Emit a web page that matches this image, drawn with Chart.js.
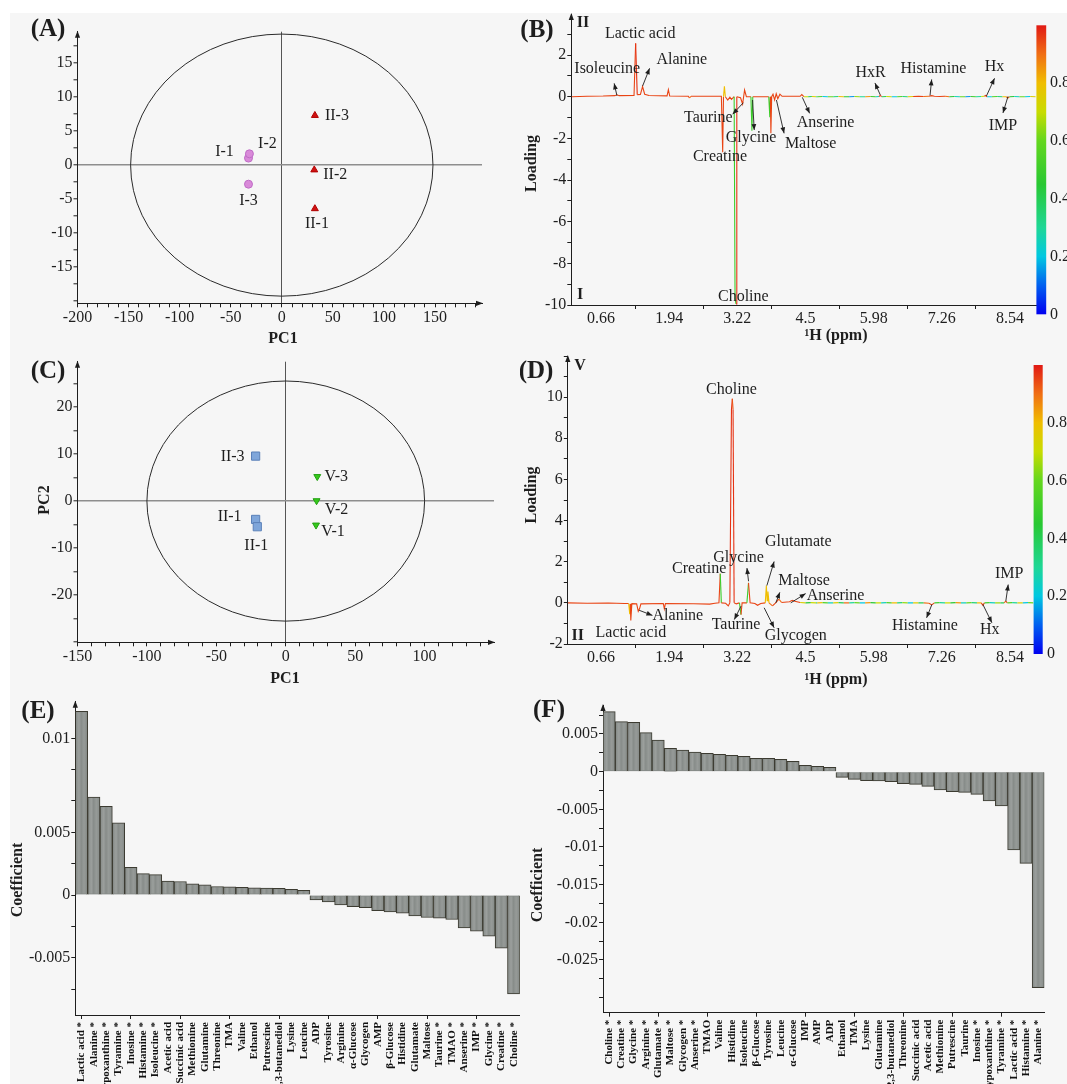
<!DOCTYPE html>
<html>
<head>
<meta charset="utf-8">
<title>PCA scores, loadings and coefficients</title>
<script src="https://cdn.jsdelivr.net/npm/chart.js@4.4.1/dist/chart.umd.min.js"></script>
<style>
  html, body { margin: 0; padding: 0; background: #ffffff; }
  #fig { position: relative; width: 1067px; height: 1084px; overflow: hidden; }
  #paper { position: absolute; left: 10px; top: 13px; right: 0; bottom: 0; background: #f6f6f6; }
  #fig canvas { position: absolute; }
</style>
</head>
<body>
<div id="fig"><div id="paper"></div></div>
<script>
// ---------- (A) PCA scores: group I vs group II ----------
const aNamesI = ['I-1', 'I-2', 'I-3'];
const aPc1I = [-32.6, -31.7, -32.6];
const aPc2I = [1.03, 1.66, -2.8];
const aNamesII = ['II-1', 'II-2', 'II-3'];
const aPc1II = [32.4, 31.8, 32.4];
const aPc2II = [-6.4, -0.7, 7.3];
const aXTicks = [-200, -150, -100, -50, 0, 50, 100, 150];
const aYTicks = [-15, -10, -5, 0, 5, 10, 15];
const aEllipse = [148, 19.25];

// ---------- (C) PCA scores: group II vs group V ----------
const cNamesII = ['II-3', 'II-1', 'II-1'];
const cPc1II = [-21.7, -21.7, -20.5];
const cPc2II = [9.55, -3.9, -5.45];
const cNamesV = ['V-3', 'V-2', 'V-1'];
const cPc1V = [22.7, 22.2, 21.8];
const cPc2V = [5.2, 0.07, -5.1];
const cXTicks = [-150, -100, -50, 0, 50, 100];
const cYTicks = [-20, -10, 0, 10, 20];
const cEllipse = [100, 25.5];

// ---------- (B)/(D) loading spectra (ppm, loading, |r| colour) ----------
const ppmTicks = [0.66, 1.94, 3.22, 4.5, 5.98, 7.26, 8.54];
const corrTicks = [0, 0.2, 0.4, 0.6, 0.8];

const bYTicks = [-10, -8, -6, -4, -2, 0, 2];
const bPpm = [0.11, 0.40, 0.70, 0.92, 0.96, 1.00, 1.28, 1.31, 1.34, 1.40,
  1.44, 1.48, 1.56, 1.90, 1.925, 1.95, 2.30, 2.32, 2.35, 2.92,
  2.945, 2.96, 2.977, 2.995, 3.04, 3.08, 3.11, 3.16, 3.177, 3.195,
  3.21, 3.28, 3.319, 3.356, 3.39, 3.475, 3.494, 3.51, 3.81, 3.83,
  3.84, 3.85, 3.865, 3.89, 3.92, 3.95, 3.98, 4.02, 4.06, 4.40,
  4.43, 4.47, 4.55, 4.62, 4.70, 4.92, 5.02, 5.12, 5.22, 5.32,
  5.42, 5.52, 5.62, 5.72, 5.82, 5.92, 6.02, 6.08, 6.105, 6.13,
  6.22, 6.32, 6.42, 6.52, 6.62, 6.72, 6.82, 6.92, 7.02, 7.07,
  7.12, 7.22, 7.32, 7.40, 7.50, 7.60, 7.70, 7.80, 7.90, 8.00,
  8.06, 8.08, 8.11, 8.20, 8.30, 8.40, 8.47, 8.50, 8.53, 8.62,
  8.72, 8.82, 8.92, 9.02];
const bLoad = [0.00, 0.02, 0.03, 0.05, 0.09, 0.05, 0.06, 2.56, 0.10, 0.11,
  0.49, 0.12, 0.06, 0.04, 0.34, 0.03, 0.02, -0.06, 0.02, 0.02,
  -2.67, 0.00, 0.50, 0.00, -0.16, -0.02, -0.13, 0.00, -9.70, -9.95,
  0.00, -0.05, -0.35, 0.32, 0.00, 0.00, -1.63, 0.00, 0.00, -0.99,
  0.00, -1.76, 0.00, 0.12, -0.15, 0.14, -0.10, 0.12, 0.02, 0.02,
  0.10, 0.00, 0.00, 0.01, 0.00, 0.00, 0.01, 0.00, 0.00, 0.01,
  0.00, 0.00, 0.01, 0.00, 0.00, 0.01, 0.00, 0.01, 0.06, 0.00,
  0.01, 0.00, 0.00, 0.01, 0.00, 0.01, 0.02, 0.01, 0.02, 0.05,
  0.02, 0.01, 0.02, 0.00, 0.01, 0.00, 0.00, 0.01, 0.00, 0.01,
  0.02, 0.06, 0.00, 0.00, 0.01, 0.00, 0.00, -0.06, 0.00, 0.01,
  0.00, 0.00, 0.01, 0.00];
const bCorr = [0.95, 0.95, 0.95, 0.95, 0.95, 0.95, 0.95, 0.97, 0.95, 0.95,
  0.95, 0.95, 0.95, 0.95, 0.95, 0.95, 0.95, 0.90, 0.95, 0.95,
  0.95, 0.80, 0.80, 0.95, 0.95, 0.95, 0.95, 0.50, 0.50, 0.97,
  0.95, 0.95, 0.95, 0.95, 0.95, 0.50, 0.50, 0.95, 0.50, 0.50,
  0.95, 0.95, 0.95, 0.95, 0.95, 0.95, 0.95, 0.95, 0.95, 0.95,
  0.95, 0.70, 0.40, 0.75, 0.30, 0.55, 0.20, 0.60, 0.35, 0.80,
  0.45, 0.15, 0.65, 0.30, 0.85, 0.50, 0.25, 0.95, 0.95, 0.40,
  0.70, 0.20, 0.55, 0.35, 0.75, 0.95, 0.95, 0.90, 0.95, 0.95,
  0.95, 0.95, 0.90, 0.45, 0.25, 0.60, 0.15, 0.50, 0.30, 0.70,
  0.95, 0.95, 0.20, 0.55, 0.35, 0.80, 0.90, 0.90, 0.45, 0.25,
  0.60, 0.20, 0.75, 0.40];

const dYTicks = [-2, 0, 2, 4, 6, 8, 10];
const dPpm = [0.04, 0.40, 0.80, 1.10, 1.18, 1.20, 1.21, 1.22, 1.24, 1.33,
  1.36, 1.385, 1.41, 1.83, 1.85, 1.87, 2.40, 2.70, 2.80, 2.875,
  2.90, 2.92, 3.00, 3.05, 3.08, 3.11, 3.126, 3.14, 3.16, 3.20,
  3.26, 3.289, 3.31, 3.40, 3.43, 3.46, 3.55, 3.60, 3.66, 3.745,
  3.765, 3.78, 3.795, 3.815, 3.88, 3.94, 4.00, 4.05, 4.20, 4.25,
  4.30, 4.40, 4.50, 4.60, 4.70, 4.92, 5.02, 5.12, 5.22, 5.32,
  5.42, 5.52, 5.62, 5.72, 5.82, 5.92, 6.02, 6.12, 6.22, 6.32,
  6.42, 6.52, 6.62, 6.72, 6.82, 6.92, 7.02, 7.07, 7.12, 7.22,
  7.32, 7.42, 7.52, 7.62, 7.72, 7.82, 7.92, 8.00, 8.03, 8.06,
  8.16, 8.26, 8.36, 8.43, 8.46, 8.49, 8.58, 8.68, 8.78, 8.88,
  8.98];
const dLoad = [0.00, -0.02, -0.01, -0.03, -0.03, -0.55, -0.05, -0.86, -0.04, -0.05,
  -0.41, -0.28, -0.05, -0.03, -0.29, -0.03, -0.04, -0.06, -0.02, 0.00,
  1.42, 0.00, -0.02, -0.15, 0.00, 9.40, 9.92, 9.40, 0.00, -0.05,
  0.00, -0.57, 0.00, 0.00, 0.97, 0.00, -0.03, -0.12, -0.03, 0.00,
  0.84, 0.10, 0.55, 0.00, -0.15, 0.00, 0.18, 0.02, 0.05, 0.12,
  0.08, 0.02, 0.00, 0.01, 0.00, 0.00, 0.01, 0.00, 0.00, 0.01,
  0.00, 0.00, 0.01, 0.00, 0.00, 0.01, 0.00, 0.00, 0.01, 0.00,
  0.00, 0.01, 0.00, 0.00, 0.00, 0.00, -0.02, -0.10, 0.00, 0.01,
  0.00, 0.00, 0.01, 0.00, 0.00, 0.01, 0.00, 0.00, -0.12, 0.00,
  0.01, 0.00, 0.00, 0.00, 0.08, 0.00, 0.01, 0.00, 0.00, 0.01,
  0.00];
const dCorr = [0.95, 0.95, 0.95, 0.95, 0.80, 0.80, 0.95, 0.95, 0.95, 0.95,
  0.95, 0.95, 0.95, 0.95, 0.95, 0.95, 0.95, 0.95, 0.95, 0.95,
  0.50, 0.95, 0.95, 0.95, 0.97, 0.97, 0.93, 0.97, 0.95, 0.95,
  0.50, 0.95, 0.95, 0.50, 0.95, 0.95, 0.95, 0.95, 0.95, 0.80,
  0.80, 0.80, 0.80, 0.90, 0.95, 0.95, 0.90, 0.95, 0.95, 0.95,
  0.95, 0.75, 0.45, 0.70, 0.35, 0.80, 0.55, 0.25, 0.75, 0.40,
  0.90, 0.30, 0.60, 0.20, 0.85, 0.45, 0.70, 0.25, 0.55, 0.80,
  0.35, 0.65, 0.20, 0.75, 0.40, 0.90, 0.95, 0.95, 0.50, 0.30,
  0.70, 0.45, 0.85, 0.25, 0.60, 0.35, 0.80, 0.95, 0.95, 0.50,
  0.25, 0.65, 0.40, 0.90, 0.95, 0.55, 0.30, 0.75, 0.20, 0.60,
  0.45];

// ---------- (E)/(F) regression coefficients ----------
const eNames = ['Lactic acid *', 'Alanine *', 'Hypoxanthine *', 'Tyramine *', 'Inosine *', 'Histamine *',
  'Isoleucine *', 'Acetic acid', 'Succinic acid', 'Methionine', 'Glutamine', 'Threonine', 'TMA', 'Valine',
  'Ethanol', 'Putrescine', '2,3-butanediol', 'Lysine', 'Leucine', 'ADP', 'Tyrosine', 'Arginine',
  'α-Glucose', 'Glycogen', 'AMP', 'β-Glucose', 'Histidine', 'Glutamate', 'Maltose', 'Taurine *',
  'TMAO *', 'Anserine *', 'IMP *', 'Glycine *', 'Creatine *', 'Choline *'];
const eCoef = [0.01466, 0.00782, 0.00708, 0.00576, 0.00221, 0.00171, 0.00163, 0.00111, 0.00108, 0.00089,
  0.00082, 0.00068, 0.00066, 0.00061, 0.00058, 0.00055, 0.00053, 0.00045, 0.00037, -0.00039,
  -0.00055, -0.00079, -0.00092, -0.00100, -0.00124, -0.00134, -0.00145, -0.00166, -0.00179, -0.00184,
  -0.00195, -0.00263, -0.00289, -0.00329, -0.00424, -0.00789];
const eYTicks = [-0.005, 0, 0.005, 0.0125];
const eYText = ['-0.005', '0', '0.005', '0.01'];

const fNames = ['Choline *', 'Creatine *', 'Glycine *', 'Arginine *', 'Glutamate *', 'Maltose *',
  'Glycogen *', 'Anserine *', 'TMAO', 'Valine', 'Histidine', 'Isoleucine', 'β-Glucose', 'Tyrosine',
  'Leucine', 'α-Glucose', 'IMP', 'AMP', 'ADP', 'Ethanol', 'TMA', 'Lysine', 'Glutamine',
  '2,3-butanediol', 'Threonine', 'Succinic acid', 'Acetic acid', 'Methionine', 'Putrescine', 'Taurine',
  'Inosine *', 'Hypoxanthine *', 'Tyramine *', 'Lactic acid *', 'Histamine *', 'Alanine *'];
const fCoef = [0.00796, 0.00664, 0.00655, 0.00518, 0.00420, 0.00310, 0.00288, 0.00261, 0.00243, 0.00230,
  0.00217, 0.00204, 0.00177, 0.00177, 0.00164, 0.00137, 0.00084, 0.00071, 0.00058, -0.00075,
  -0.00102, -0.00120, -0.00124, -0.00133, -0.00159, -0.00168, -0.00195, -0.00243, -0.00265, -0.00274,
  -0.00301, -0.00389, -0.00456, -0.01040, -0.01217, -0.02867];
const fYTicks = [-0.025, -0.02, -0.015, -0.01, -0.005, 0, 0.005];

// ---------- annotations (axis units of the loading plots) ----------
const bNotes = [
  { t: 'Lactic acid', x: 1.396, y: 3.04 },
  { t: 'Isoleucine', x: 0.776, y: 1.32, from: [0.959, 0.05], to: [0.907, 0.64] },
  { t: 'Alanine', x: 2.177, y: 1.76, from: [1.441, 0.51], to: [1.572, 1.36] },
  { t: 'Taurine', x: 2.675, y: -1.02, from: [3.332, -0.29], to: [3.132, -0.84] },
  { t: 'Creatine', x: 2.894, y: -2.88 },
  { t: 'Glycine', x: 3.476, y: -1.95, from: [3.506, -0.16], to: [3.537, -1.6] },
  { t: 'Maltose', x: 4.597, y: -2.27, from: [3.954, -0.16], to: [4.098, -1.76] },
  { t: 'Anserine', x: 4.877, y: -1.25, from: [4.44, -0.03], to: [4.578, -0.8] },
  { t: 'Choline', x: 3.332, y: -9.6 },
  { t: 'HxR', x: 5.723, y: 1.15, from: [5.905, 0.08], to: [5.804, 0.66] },
  { t: 'Histamine', x: 6.901, y: 1.32, from: [6.839, 0.06], to: [6.869, 0.83] },
  { t: 'Hx', x: 8.05, y: 1.44, from: [7.897, 0.03], to: [8.05, 0.88] },
  { t: 'IMP', x: 8.208, y: -1.38, from: [8.302, 0.01], to: [8.208, -0.78] }
];
const bMarks = [{ t: 'II', x: 0.32, y: 3.55 }, { t: 'I', x: 0.268, y: -9.52 }];

const dNotes = [
  { t: 'Choline', x: 3.109, y: 10.36 },
  { t: 'Creatine', x: 2.504, y: 1.67 },
  { t: 'Glycine', x: 3.244, y: 2.18, from: [3.431, 1.05], to: [3.401, 1.69] },
  { t: 'Glutamate', x: 4.365, y: 2.95, from: [3.775, 0.84], to: [3.911, 2.01] },
  { t: 'Maltose', x: 4.472, y: 1.09, from: [3.943, 0.0], to: [4.018, 0.51] },
  { t: 'Anserine', x: 5.064, y: 0.35, from: [4.223, 0.0], to: [4.503, 0.45] },
  { t: 'Taurine', x: 3.195, y: -1.05, from: [3.289, -0.16], to: [3.164, -0.81] },
  { t: 'Glycogen', x: 4.317, y: -1.58, from: [3.724, -0.24], to: [3.911, -1.21] },
  { t: 'Alanine', x: 2.104, y: -0.65, from: [1.376, -0.36], to: [1.626, -0.61] },
  { t: 'Lactic acid', x: 1.221, y: -1.45 },
  { t: 'Histamine', x: 6.742, y: -1.13, from: [6.873, -0.08], to: [6.774, -0.73] },
  { t: 'Hx', x: 7.96, y: -1.33, from: [7.831, -0.08], to: [8.0, -0.97] },
  { t: 'IMP', x: 8.326, y: 1.4, from: [8.261, 0.08], to: [8.306, 0.89] }
];
const dMarks = [{ t: 'V', x: 0.268, y: 11.53 }, { t: 'II', x: 0.223, y: -1.58 }];

// ---------- helpers ----------
const SERIF = '"Liberation Serif", "Times New Roman", Times, serif';
const INK = '#1e1e1e';
const CLEAR = 'rgba(0,0,0,0)';
Chart.defaults.font.family = SERIF;
Chart.defaults.font.size = 16;
Chart.defaults.color = INK;

// water region cut out of the ppm axis (4.7 - 4.9 ppm)
const toAxis = p => (p >= 4.8 ? p - 0.2 : p);

const JET = [[0, [0, 0, 240]], [0.1, [0, 95, 240]], [0.2, [0, 200, 225]], [0.3, [30, 215, 150]],
  [0.45, [40, 200, 50]], [0.6, [100, 215, 30]], [0.7, [200, 220, 0]], [0.8, [240, 190, 0]],
  [0.9, [240, 110, 20]], [1, [225, 25, 20]]];
function jet(v) {
  for (let i = 1; i < JET.length; i++) {
    if (v <= JET[i][0]) {
      const [v0, c0] = JET[i - 1], [v1, c1] = JET[i];
      const f = (v - v0) / (v1 - v0);
      const c = c0.map((k, j) => Math.round(k + (c1[j] - k) * f));
      return `rgb(${c[0]},${c[1]},${c[2]})`;
    }
  }
  return 'rgb(225,25,20)';
}

const fig = document.getElementById('fig');
function canvasAt(box) {
  const c = document.createElement('canvas');
  c.width = box.w;
  c.height = box.h;
  Object.assign(c.style, { left: box.x + 'px', top: box.y + 'px', width: box.w + 'px', height: box.h + 'px' });
  fig.appendChild(c);
  return c;
}

function tickList(values, texts, minorStep, lo, hi) {
  const list = values.map((v, i) => ({ value: v, text: texts ? texts[i] : String(v), lab: true }));
  if (minorStep) {
    for (let k = Math.ceil(lo / minorStep - 1e-6); k * minorStep <= hi + 1e-9; k++) {
      const v = Math.round(k * minorStep * 1e6) / 1e6;
      if (!values.some(m => Math.abs(m - v) < 1e-9)) list.push({ value: v, text: '', lab: false });
    }
  }
  return list.sort((p, q) => p.value - q.value);
}

function valueAxis(o) {
  return {
    type: 'linear', min: o.min, max: o.max,
    afterBuildTicks: s => { s.ticks = o.ticks.map(t => ({ ...t })); },
    afterFit: s => { if (o.w != null) s.width = o.w; if (o.h != null) s.height = o.h; },
    border: { display: true, color: INK, width: 1 },
    grid: {
      drawOnChartArea: !!o.zero,
      color: c => (o.zero && c.tick && c.tick.value === 0) ? o.zero : CLEAR,
      lineWidth: o.zeroWidth || 1,
      tickColor: c => (o.hideLabeled && c.tick && c.tick.lab) ? CLEAR : INK,
      tickLength: 4, tickWidth: 1
    },
    ticks: {
      autoSkip: false, maxRotation: 0, minRotation: 0, padding: o.pad ?? 1, color: INK,
      font: { size: 16 }, callback: (v, i, t) => t[i].text
    }
  };
}

function padFor(box, area) {
  return { left: 0, top: area.t - box.y, right: box.x + box.w - area.r, bottom: 0 };
}

function drawText(ctx, s, x, y, font, rot) {
  ctx.save();
  ctx.translate(x, y);
  if (rot) ctx.rotate(rot);
  ctx.font = font;
  ctx.fillStyle = INK;
  ctx.textAlign = 'center';
  ctx.textBaseline = 'middle';
  ctx.fillText(s, 0, 0);
  ctx.restore();
}

function head(ctx, x, y, ang, len, half) {
  ctx.beginPath();
  ctx.moveTo(x, y);
  ctx.lineTo(x - len * Math.cos(ang) + half * Math.sin(ang), y - len * Math.sin(ang) - half * Math.cos(ang));
  ctx.lineTo(x - len * Math.cos(ang) - half * Math.sin(ang), y - len * Math.sin(ang) + half * Math.cos(ang));
  ctx.closePath();
  ctx.fill();
}

// extra drawing: panel letters, titles, ellipse, notes, colour bar
function decor(box, d) {
  return {
    id: 'decor',
    beforeDatasetsDraw(chart) {
      if (!d.ellipse) return;
      const { ctx, scales: { x, y } } = chart;
      const cx = x.getPixelForValue(0), cy = y.getPixelForValue(0);
      const rx = Math.abs(x.getPixelForValue(d.ellipse[0]) - cx);
      const ry = Math.abs(y.getPixelForValue(d.ellipse[1]) - cy);
      ctx.save();
      ctx.beginPath();
      ctx.ellipse(cx, cy, rx, ry, 0, 0, Math.PI * 2);
      ctx.strokeStyle = '#2a2a2a';
      ctx.lineWidth = 1;
      ctx.stroke();
      ctx.restore();
    },
    afterDatasetsDraw(chart) {
      if (!d.stripes) return;
      const { ctx } = chart;
      ctx.save();
      chart.getDatasetMeta(0).data.forEach(el => {
        const { x, y, base, width } = el.getProps(['x', 'y', 'base', 'width'], true);
        const l = x - width / 2;
        const g = ctx.createLinearGradient(l, 0, l + width, 0);
        g.addColorStop(0, 'rgba(255,255,255,0)');
        g.addColorStop(0.3, 'rgba(255,255,255,0.18)');
        g.addColorStop(0.48, 'rgba(255,255,255,0.02)');
        g.addColorStop(0.7, 'rgba(255,255,255,0.14)');
        g.addColorStop(1, 'rgba(255,255,255,0)');
        ctx.fillStyle = g;
        ctx.fillRect(l + 1, Math.min(y, base) + 1, width - 2, Math.max(Math.abs(base - y) - 2, 0));
      });
      ctx.restore();
    },
    afterDraw(chart) {
      const { ctx, chartArea: a, scales: { x, y } } = chart;
      ctx.save();
      ctx.fillStyle = INK;
      ctx.strokeStyle = INK;
      if (d.arrowUp) head(ctx, a.left, a.top - 1, -Math.PI / 2, 7, 2.6);
      if (d.arrowRight) head(ctx, a.right + 1, a.bottom, 0, 7, 2.6);

      (d.texts || []).forEach(t => drawText(ctx, t.s, t.x - box.x, t.y - box.y, t.font, t.rot));

      (d.notes || []).forEach(n => {
        drawText(ctx, n.t, x.getPixelForValue(n.x), y.getPixelForValue(n.y), '16px ' + SERIF);
        if (n.from) {
          const x0 = x.getPixelForValue(n.from[0]), y0 = y.getPixelForValue(n.from[1]);
          const x1 = x.getPixelForValue(n.to[0]), y1 = y.getPixelForValue(n.to[1]);
          ctx.lineWidth = 0.9;
          ctx.beginPath(); ctx.moveTo(x0, y0); ctx.lineTo(x1, y1); ctx.stroke();
          head(ctx, x1, y1, Math.atan2(y1 - y0, x1 - x0), 6, 2.4);
        }
      });
      (d.marks || []).forEach(m => drawText(ctx, m.t, x.getPixelForValue(m.x), y.getPixelForValue(m.y), 'bold 16px ' + SERIF));

      (d.pointLabels || []).forEach((set, di) => {
        const meta = chart.getDatasetMeta(di);
        set.names.forEach((nm, i) => {
          const el = meta.data[i];
          drawText(ctx, nm, el.x + set.off[i][0], el.y + set.off[i][1], '16px ' + SERIF);
        });
      });

      if (d.colorbar) {
        const cb = d.colorbar;
        const x0 = cb.x0 - box.x, x1 = cb.x1 - box.x, top = cb.top - box.y, bot = cb.bottom - box.y;
        const g = ctx.createLinearGradient(0, bot, 0, top);
        JET.forEach(([v]) => g.addColorStop(v, jet(v)));
        ctx.fillStyle = g;
        ctx.fillRect(x0, top, x1 - x0, bot - top);
        ctx.fillStyle = INK;
        ctx.font = '16px ' + SERIF;
        ctx.textAlign = 'left';
        ctx.textBaseline = 'middle';
        corrTicks.forEach(v => ctx.fillText(String(v), cb.lx - box.x, bot - v * (bot - top)));
      }
      ctx.restore();
    }
  };
}

function scorePlot(box, area, o) {
  return new Chart(canvasAt(box), {
    type: 'scatter',
    data: {
      datasets: o.sets.map(s => ({
        data: s.x.map((v, i) => ({ x: v, y: s.y[i] })),
        pointStyle: s.shape, rotation: s.rot || 0, pointRadius: s.r,
        backgroundColor: s.fill, borderColor: s.edge, borderWidth: 1
      }))
    },
    options: {
      responsive: false, animation: false, events: [],
      layout: { padding: padFor(box, area) },
      plugins: { legend: { display: false }, tooltip: { enabled: false } },
      scales: {
        x: valueAxis({ ...o.x, h: box.y + box.h - area.b, zero: '#555555' }),
        y: valueAxis({ ...o.y, w: area.l - box.x, zero: '#8e8e8e', zeroWidth: 1.6 })
      }
    },
    plugins: [decor(box, o.decor)]
  });
}

function loadingPlot(box, area, o) {
  const pos = ppmTicks.map(toAxis);
  const xt = pos.map((v, i) => ({ value: v, text: String(ppmTicks[i]), lab: true }));
  for (let i = 1; i < pos.length; i++) xt.push({ value: (pos[i - 1] + pos[i]) / 2, text: '', lab: false });
  xt.sort((p, q) => p.value - q.value);
  return new Chart(canvasAt(box), {
    type: 'line',
    data: {
      datasets: [{
        data: o.ppm.map((p, i) => ({ x: toAxis(p), y: o.load[i] })),
        borderColor: jet(0.95), borderWidth: 1.1, pointRadius: 0, tension: 0, fill: false,
        segment: { borderColor: c => jet(o.corr[c.p0DataIndex]) }
      }]
    },
    options: {
      responsive: false, animation: false, events: [],
      layout: { padding: padFor(box, area) },
      plugins: { legend: { display: false }, tooltip: { enabled: false } },
      scales: {
        x: valueAxis({ min: o.xMin, max: o.xMax, ticks: xt, h: box.y + box.h - area.b, hideLabeled: true, pad: 0 }),
        y: valueAxis({ min: o.yMin, max: o.yMax, ticks: tickList(o.yTicks, null, 1, o.yMin, o.yMax), w: area.l - box.x })
      }
    },
    plugins: [decor(box, o.decor)]
  });
}

function coefPlot(box, area, o) {
  return new Chart(canvasAt(box), {
    type: 'bar',
    data: {
      labels: o.names,
      datasets: [{
        data: o.coef, backgroundColor: '#858a87', borderColor: '#3c3b31', borderWidth: 1,
        barPercentage: 1, categoryPercentage: 1
      }]
    },
    options: {
      responsive: false, animation: false, events: [],
      layout: { padding: padFor(box, area) },
      plugins: { legend: { display: false }, tooltip: { enabled: false } },
      scales: {
        x: {
          type: 'category',
          afterFit: s => { s.height = box.y + box.h - area.b; },
          border: { display: true, color: INK, width: 1 },
          grid: { offset: false, drawOnChartArea: false, tickLength: 4, tickWidth: 1,
            tickColor: c => (c.index % 4 === 0 ? INK : CLEAR) },
          ticks: { autoSkip: false, minRotation: 90, maxRotation: 90, padding: 3, color: '#111111',
            font: { size: 11, weight: 'bold' } }
        },
        y: valueAxis({ ...o.y, w: area.l - box.x })
      }
    },
    plugins: [decor(box, o.decor)]
  });
}

const BIG = 'bold 25px ' + SERIF;
const TITLE = 'bold 16px ' + SERIF;
const UP = -Math.PI / 2;

// ---------- (A) ----------
scorePlot({ x: 10, y: 13, w: 515, h: 339 }, { l: 77.5, t: 31.7, r: 482, b: 303.3 }, {
  sets: [
    { x: aPc1I, y: aPc2I, shape: 'circle', r: 4, fill: '#d98ad9', edge: '#bf6cc6' },
    { x: aPc1II, y: aPc2II, shape: 'triangle', r: 4, fill: '#d01212', edge: '#b00000' }
  ],
  x: { min: -200, max: 196, ticks: tickList(aXTicks, null, 10, -200, 190) },
  y: { min: -20.3, max: 19.6, ticks: tickList(aYTicks, null, 2.5, -20, 17.5) },
  decor: {
    ellipse: aEllipse, arrowUp: true, arrowRight: true,
    texts: [{ s: '(A)', x: 48, y: 30, font: BIG }, { s: 'PC1', x: 283, y: 339, font: TITLE }],
    pointLabels: [
      { names: aNamesI, off: [[-24, -6], [18, -10], [0, 17]] },
      { names: aNamesII, off: [[2, 15], [21, 5], [22, 0]] }
    ]
  }
});

// ---------- (C) ----------
scorePlot({ x: 10, y: 345, w: 515, h: 352 }, { l: 77.5, t: 361.7, r: 494, b: 642.3 }, {
  sets: [
    { x: cPc1II, y: cPc2II, shape: 'rect', r: 5.8, fill: '#7fa6da', edge: '#5a80b8' },
    { x: cPc1V, y: cPc2V, shape: 'triangle', rot: 180, r: 4, fill: '#36c81c', edge: '#22a012' }
  ],
  x: { min: -150, max: 150, ticks: tickList(cXTicks, null, 10, -150, 140) },
  y: { min: -30, max: 29.6, ticks: tickList(cYTicks, null, 5, -30, 25) },
  decor: {
    ellipse: cEllipse, arrowUp: true, arrowRight: true,
    texts: [
      { s: '(C)', x: 48, y: 372, font: BIG },
      { s: 'PC2', x: 44.8, y: 500, font: TITLE, rot: UP },
      { s: 'PC1', x: 285, y: 679, font: TITLE }
    ],
    pointLabels: [
      { names: cNamesII, off: [[-23, 1], [-26, -3], [-1, 19]] },
      { names: cNamesV, off: [[19, 0], [20, 9], [17, 7]] }
    ]
  }
});

// ---------- (B) ----------
loadingPlot({ x: 520, y: 0, w: 547, h: 352 }, { l: 571.3, t: 14, r: 1036.4, b: 305 }, {
  ppm: bPpm, load: bLoad, corr: bCorr,
  xMin: 0.102, xMax: 8.836, yMin: -10, yMax: 3.97, yTicks: bYTicks,
  decor: {
    arrowUp: true, notes: bNotes, marks: bMarks,
    colorbar: { x0: 1036.4, x1: 1046.2, top: 25.3, bottom: 314.3, lx: 1050 },
    texts: [
      { s: '(B)', x: 537, y: 31, font: BIG },
      { s: 'Loading', x: 532.2, y: 163.5, font: TITLE, rot: UP },
      { s: '¹H (ppm)', x: 836, y: 336, font: TITLE }
    ]
  }
});

// ---------- (D) ----------
loadingPlot({ x: 520, y: 340, w: 547, h: 357 }, { l: 567.8, t: 356, r: 1033.6, b: 644 }, {
  ppm: dPpm, load: dLoad, corr: dCorr,
  xMin: 0.037, xMax: 8.783, yMin: -2, yMax: 12, yTicks: dYTicks,
  decor: {
    arrowUp: true, notes: dNotes, marks: dMarks,
    colorbar: { x0: 1033.6, x1: 1042.7, top: 365, bottom: 654, lx: 1047 },
    texts: [
      { s: '(D)', x: 536, y: 372, font: BIG },
      { s: 'Loading', x: 532.2, y: 495, font: TITLE, rot: UP },
      { s: '¹H (ppm)', x: 836, y: 680, font: TITLE }
    ]
  }
});

// ---------- (E) ----------
coefPlot({ x: 5, y: 685, w: 525, h: 399 }, { l: 75.3, t: 701.7, r: 520, b: 1015 }, {
  names: eNames, coef: eCoef,
  y: { min: -0.00957, max: 0.01542, ticks: tickList(eYTicks, eYText, 0.0025, -0.0075, 0.0125) },
  decor: {
    arrowUp: true, stripes: true,
    texts: [
      { s: '(E)', x: 38, y: 712, font: BIG },
      { s: 'Coefficient', x: 17.5, y: 880, font: TITLE, rot: UP }
    ]
  }
});

// ---------- (F) ----------
coefPlot({ x: 522, y: 685, w: 545, h: 399 }, { l: 603, t: 705, r: 1044.4, b: 1012.7 }, {
  names: fNames, coef: fCoef,
  y: { min: -0.032, max: 0.00885, ticks: tickList(fYTicks, null, 0.0025, -0.03, 0.0075) },
  decor: {
    arrowUp: true, stripes: true,
    texts: [
      { s: '(F)', x: 549, y: 711, font: BIG },
      { s: 'Coefficient', x: 537.7, y: 885, font: TITLE, rot: UP }
    ]
  }
});
</script>
</body>
</html>
